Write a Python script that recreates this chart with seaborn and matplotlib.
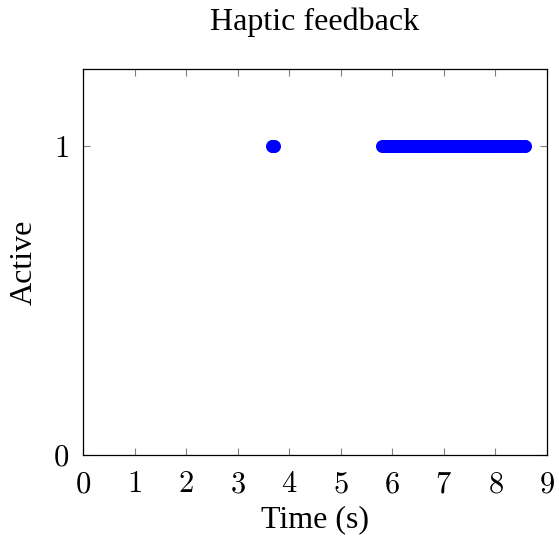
import matplotlib
matplotlib.use("Agg")
import matplotlib.pyplot as plt
import seaborn as sns
import pandas as pd

# Data
times = [3.66, 3.68, 3.70,
         5.80, 5.85, 5.90, 5.95, 6.00, 6.05, 6.10, 6.15, 6.20, 6.25,
         6.30, 6.35, 6.40, 6.45, 6.50, 6.55, 6.60, 6.65, 6.70, 6.75,
         6.80, 6.85, 6.90, 6.95, 7.00, 7.05, 7.10, 7.15, 7.20, 7.25,
         7.30, 7.35, 7.40, 7.45, 7.50, 7.55, 7.60, 7.65, 7.70, 7.75,
         7.80, 7.85, 7.90, 7.95, 8.00, 8.05, 8.10, 8.15, 8.20, 8.25,
         8.30, 8.35, 8.40, 8.45, 8.50, 8.55, 8.57]
active = [1] * len(times)
x_ticks = [0, 1, 2, 3, 4, 5, 6, 7, 8, 9]
y_ticks = [0, 1]

sns.set_style("white")
plt.rcParams["font.family"] = ["Liberation Serif", "DejaVu Serif"]
plt.rcParams["mathtext.fontset"] = "cm"
plt.rcParams["text.color"] = "black"
plt.rcParams["axes.labelcolor"] = "black"
plt.rcParams["xtick.labelcolor"] = "black"
plt.rcParams["ytick.labelcolor"] = "black"

df = pd.DataFrame({"Time": times, "Active": active})

fig = plt.figure(figsize=(5.59, 5.43), dpi=100)
ax = fig.add_axes([83 / 559, 1 - 455 / 543, (547 - 83) / 559, (455 - 69) / 543])
sns.scatterplot(data=df, x="Time", y="Active", ax=ax, color="#0000ff",
                s=88, linewidth=0, legend=False)

ax.set_xlim(0, 9)
ax.set_ylim(0, 1.25)
ax.set_xticks(x_ticks)
ax.set_yticks(y_ticks)
ax.set_xticklabels([f"${v}$" for v in x_ticks], fontsize=22)
ax.set_yticklabels([f"${v}$" for v in y_ticks], fontsize=22)
ax.tick_params(direction="in", length=5, width=0.8, color="#808080",
               top=True, right=True, bottom=True, left=True)
ax.tick_params(axis="x", pad=11)
ax.tick_params(axis="y", pad=10)
for sp in ax.spines.values():
    sp.set_color("black")
    sp.set_linewidth(0.9)
    sp.set_visible(True)
ax.set_xlabel("Time (s)", fontsize=23, labelpad=4)
ax.set_ylabel("Active", fontsize=23, labelpad=10)
ax.set_title("Haptic feedback", fontsize=23, pad=28)

fig.savefig("out.png", dpi=100)
